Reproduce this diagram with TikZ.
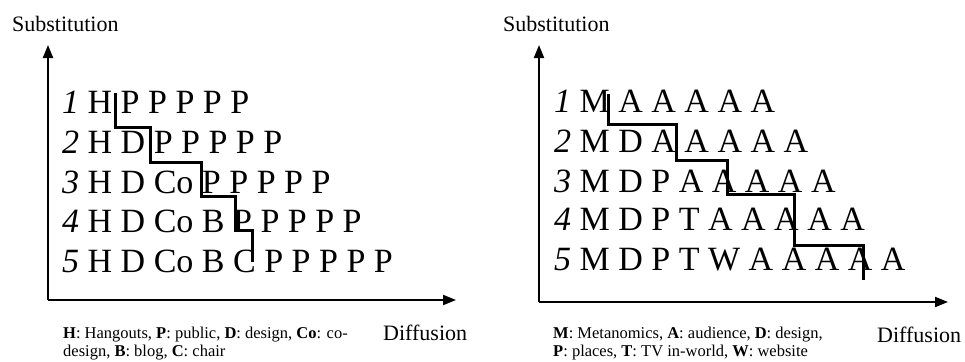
\documentclass[tikz,border=0pt]{standalone}
\usepackage{fontspec}
\setmainfont{Liberation Serif}
\usetikzlibrary{arrows.meta}

\begin{document}
\begin{tikzpicture}[x=1pt,y=-1pt,
  row/.style={anchor=base west,inner sep=0pt,font=\fontsize{34}{40}\selectfont},
  axislabel/.style={anchor=base west,inner sep=0pt,font=\fontsize{22}{26}\selectfont},
  legend/.style={anchor=base west,inner sep=0pt,align=left,font=\fontsize{16.5}{18}\selectfont},
  axis/.style={line width=2pt,-{Triangle[length=13pt,width=10pt]}},
  stairs/.style={line width=3pt}]
\useasboundingbox (0,0) rectangle (965,361);

% left chart
\coordinate (originL) at (48,300);
\coordinate (ytipL) at (48,45);
\coordinate (xtipL) at (456,300);
\draw[axis] (originL) -- (ytipL);
\draw[axis] (originL) -- (xtipL);
\node[axislabel] (subL) at (12,32) {Substitution};
\node[axislabel] (difL) at (383,340) {Diffusion};

\foreach \y/\n/\txt in {113/1/H P P P P P, 153/2/H D P P P P P, 193/3/H D Co P P P P P,
    232/4/H D Co B P P P P P, 272/5/H D Co B C P P P P P}{
    \node[row] (hl\n) at (62,\y) {\textit{\n} \txt};
}

\draw[stairs] (115,93) -- (115,127) -- (150,127) -- (150,162) -- (201,162)
  -- (201,196) -- (235,196) -- (235,230) -- (252,230) -- (252,262);

% legend: base sits on the second line
\node[legend] (keyL) at (63,356) {\textbf{H}: Hangouts, \textbf{P}: public, \textbf{D}: design, \textbf{Co}: co-\\
design, \textbf{B}: blog, \textbf{C}: chair};

% right chart
\coordinate (originR) at (539,302);
\coordinate (ytipR) at (539,45);
\coordinate (xtipR) at (948,302);
\draw[axis] (originR) -- (ytipR);
\draw[axis] (originR) -- (xtipR);
\node[axislabel] (subR) at (503,32) {Substitution};
\node[axislabel] (difR) at (877,342) {Diffusion};

\foreach \y/\n/\txt in {112/1/M A A A A A, 152/2/M D A A A A A, 192/3/M D P A A A A A,
    230/4/M D P T A A A A A, 270/5/M D P T W A A A A A}{
    \node[row] (mr\n) at (554,\y) {\textit{\n} \txt};
}

\draw[stairs] (608,94) -- (608,124) -- (676,124) -- (676,160) -- (727,160)
  -- (727,194) -- (794,194) -- (794,245) -- (863,245) -- (863,280);

\node[legend] (keyR) at (553,356) {\textbf{M}: Metanomics, \textbf{A}: audience, \textbf{D}: design,\\
\textbf{P}: places, \textbf{T}: TV in-world, \textbf{W}: website};
\end{tikzpicture}
\end{document}
